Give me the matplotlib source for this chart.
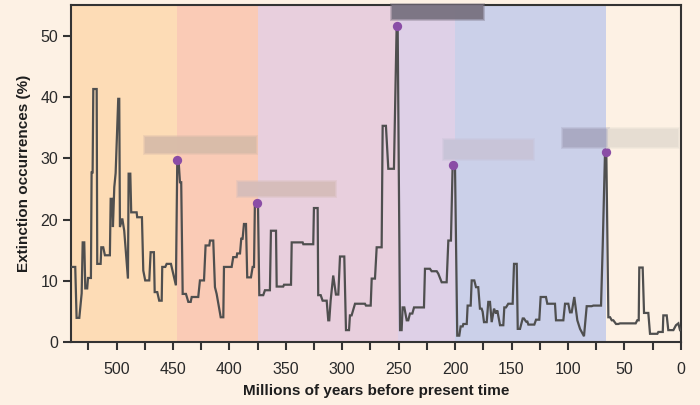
import matplotlib
matplotlib.use("Agg")
import matplotlib.pyplot as plt
from matplotlib.patches import Rectangle

# ---- data ----
ma = [539.5, 536.6, 535.4, 533.0, 530.9, 530.0, 528.6, 527.7, 526.0, 525.3, 522.7, 522.1, 521.2,
      520.6, 517.6, 517.1, 514.1, 513.5, 511.8, 510.3, 505.9, 505.2, 503.8, 503.2, 502.0, 500.8,
      498.5, 497.6, 497.0, 494.9, 493.2, 489.9, 489.3, 487.8, 487.0, 482.2, 481.7, 477.5, 476.3,
      474.6, 471.0, 469.8, 466.9, 466.2, 463.9, 462.2, 460.0, 459.5, 456.8, 455.6, 451.8, 447.4,
      446.2, 445.0, 443.8, 442.7, 441.4, 438.5, 436.4, 434.3, 433.4, 427.6, 426.1, 422.5, 421.1,
      417.8, 417.2, 414.3, 412.8, 411.3, 407.7, 405.4, 404.8, 398.0, 396.6, 393.6, 393.1, 390.6,
      389.5, 388.3, 387.1, 385.3, 384.2, 380.9, 379.4, 378.2, 377.4, 374.7,
      373.5, 370.0, 368.5, 364.1, 363.2, 358.7, 358.1, 352.3, 351.6, 345.4, 344.8, 335.1, 334.5,
      325.7, 325.1, 321.8, 321.3, 319.1, 317.4, 313.8, 312.4, 311.5, 310.3, 308.0, 305.6, 303.5,
      302.0, 298.2, 296.7, 294.0, 293.2, 291.7, 288.7, 279.9, 279.0, 274.8, 273.9, 271.0, 269.5,
      265.1, 264.2, 261.3, 259.2, 254.2, 251.8, 250.9, 248.8, 247.4, 246.5, 245.0, 242.9, 241.5,
      240.0, 237.9, 236.4, 227.6, 226.7, 222.3, 220.8, 216.3, 214.9, 211.9, 207.5, 206.0, 203.7,
      202.2, 200.1, 198.1, 196.3, 195.1, 193.3, 192.7, 189.7, 188.9, 186.2, 185.3, 183.0, 181.5,
      179.5, 178.0, 176.5, 175.6, 174.4, 172.0, 170.6, 169.1, 167.6, 165.5, 163.8, 162.6, 160.2,
      157.3, 156.4, 154.9, 152.9, 149.0, 147.8, 145.4, 144.5, 142.5, 140.1, 139.0, 137.2, 136.0,
      135.1, 129.8, 128.3, 125.4, 124.2, 119.5, 118.3, 111.5, 110.6, 104.1, 102.6, 99.7, 98.2,
      96.7, 94.4, 91.7, 89.3, 85.8, 83.4, 79.0, 77.5, 70.7, 69.2, 67.2, 66.0, 64.2, 62.7, 61.2,
      59.8, 57.4, 55.4, 53.9, 40.0, 38.6, 37.3, 36.8, 33.8, 32.6, 28.8, 27.3, 20.8, 19.9, 16.0,
      15.5, 12.5, 11.1, 6.6, 4.3, 2.2, 0.7]
pct = [12.3, 12.3, 4.0, 4.0, 8.0, 16.3, 16.3, 8.8, 8.8, 10.5, 10.5, 27.7, 27.7,
       41.3, 41.3, 12.8, 12.8, 15.5, 15.5, 14.2, 14.2, 23.4, 23.4, 18.8, 25.3, 27.6,
       39.7, 39.7, 18.8, 20.2, 18.2, 10.4, 27.5, 27.5, 21.2, 21.2, 20.4, 20.4, 11.7,
       10.1, 10.1, 14.7, 14.7, 8.2, 8.2, 6.8, 6.8, 12.3, 12.3, 12.8, 12.8, 9.3,
       29.6, 29.6, 26.1, 26.1, 7.9, 7.9, 6.6, 6.6, 7.4, 7.4, 10.1, 10.1, 15.8,
       15.8, 16.6, 16.6, 9.0, 7.9, 4.1, 4.1, 12.3, 12.3, 13.9, 13.9, 14.5, 14.5,
       16.9, 16.9, 19.3, 19.3, 10.6, 10.6, 12.3, 12.3, 22.8, 22.8,
       7.7, 7.7, 8.5, 8.5, 18.2, 18.2, 9.1, 9.1, 9.4, 9.4, 16.3, 16.3, 16.0,
       16.0, 21.9, 21.9, 7.7, 7.7, 6.8, 6.8, 3.6, 3.6, 6.8, 10.9, 7.8, 7.8,
       14.0, 14.0, 2.0, 2.0, 4.4, 4.4, 6.3, 6.3, 6.0, 6.0, 10.4, 10.4, 15.5,
       15.5, 35.3, 35.3, 28.3, 28.3, 51.6, 51.6, 2.0, 2.0, 5.7, 5.7, 3.6, 3.6,
       4.7, 4.7, 5.7, 5.7, 12.0, 12.0, 11.6, 11.6, 11.2, 9.8, 9.8, 16.6, 16.6,
       28.8, 28.8, 1.1, 1.1, 2.6, 2.6, 3.0, 3.0, 6.0, 6.0, 10.1, 10.1, 9.0,
       9.0, 5.5, 5.5, 5.0, 3.3, 3.3, 6.6, 6.6, 3.3, 5.5, 4.7, 5.2, 2.8,
       2.8, 5.7, 5.7, 6.3, 6.3, 12.8, 12.8, 2.2, 2.2, 3.9, 3.9, 3.4, 3.4,
       2.9, 2.9, 3.7, 3.7, 7.4, 7.4, 6.3, 6.3, 3.6, 3.6, 6.3, 6.3, 4.9,
       4.9, 7.4, 3.6, 2.2, 1.0, 5.9, 5.9, 6.0, 6.0, 15.8, 30.8, 30.8, 4.1, 4.1, 3.6,
       3.6, 3.0, 3.0, 3.1, 3.1, 3.6, 3.6, 12.2, 12.2, 4.8, 4.8, 1.4, 1.4, 1.7, 1.7,
       4.4, 4.4, 2.0, 2.0, 2.8, 3.1, 2.0]

peak_ma = [446.0, 375.8, 251.2, 201.6, 66.3]
peak_pct = [29.7, 22.7, 51.5, 28.9, 31.0]

band_edges = [540, 446, 375, 251, 200, 66]
band_colors = ["#FDDCB6", "#FACBB6", "#E8CFDD", "#DED0E7", "#CBD0E9"]

x_major = [500, 450, 400, 350, 300, 250, 200, 150, 100, 50, 0]
x_minor = [525, 475, 425, 375, 325, 275, 225, 175, 125, 75, 25]
y_ticks = [0, 10, 20, 30, 40, 50]

bg = "#FDF1E4"

plt.rcParams['font.family'] = ['Liberation Sans', 'DejaVu Sans']

fig = plt.figure(figsize=(7.0, 4.05), dpi=100, facecolor=bg)
ax = fig.add_axes([0.102, 0.1546, 0.8706, 0.8331])
ax.set_facecolor(bg)

for i, c in enumerate(band_colors):
    ax.axvspan(band_edges[i], band_edges[i + 1], color=c, lw=0, zorder=0)

ax.plot(ma, pct, color="#4F4F4F", lw=1.6, zorder=3, solid_joinstyle="miter")
ax.scatter(peak_ma, peak_pct, s=45, color="#8A4DA6", zorder=5, lw=0)

ax.set_xlim(540, 0)
ax.set_ylim(0, 55)
ax.set_xticks(x_major)
ax.set_xticks(x_minor, minor=True)
ax.set_yticks(y_ticks)
ax.tick_params(axis="both", which="both", direction="out", length=6, width=1.5,
               color="#333333", labelsize=11.5, labelcolor="#2a2a2a")
ax.tick_params(axis="x", pad=8)
for s in ax.spines.values():
    s.set_linewidth(1.5)
    s.set_color("#333333")

ax.set_xlabel("Millions of years before present time", fontsize=11, fontweight="bold",
              color="#1e1e1e", labelpad=5)
ax.set_ylabel("Extinction occurrences (%)", fontsize=11, fontweight="bold",
              color="#1e1e1e", labelpad=7)

# blurred (obscured) label boxes, in pixel coordinates of the 700x405 figure
W, H = 700.0, 405.0
boxes = [
    (145, 137, 111, 16, "#D8BCA9"),
    (238, 182, 97, 14, "#D6BDBA"),
    (392, 5, 91, 14, "#7A7382"),
    (444, 140, 89, 19, "#C8C4D8"),
    (563, 129, 45, 18, "#A9A9C2"),
    (608, 129, 70, 18, "#E6DDD2"),
]
for (x, y, w, h, c) in boxes:
    for k, a in enumerate([0.35, 0.45, 0.9]):
        g = 2 - k
        fig.patches.append(Rectangle(((x - g) / W, 1 - (y + h + g) / H), (w + 2 * g) / W,
                                     (h + 2 * g) / H, transform=fig.transFigure,
                                     facecolor=c, edgecolor="none", alpha=a, zorder=6))

fig.savefig("out.png", dpi=100, facecolor=bg)
